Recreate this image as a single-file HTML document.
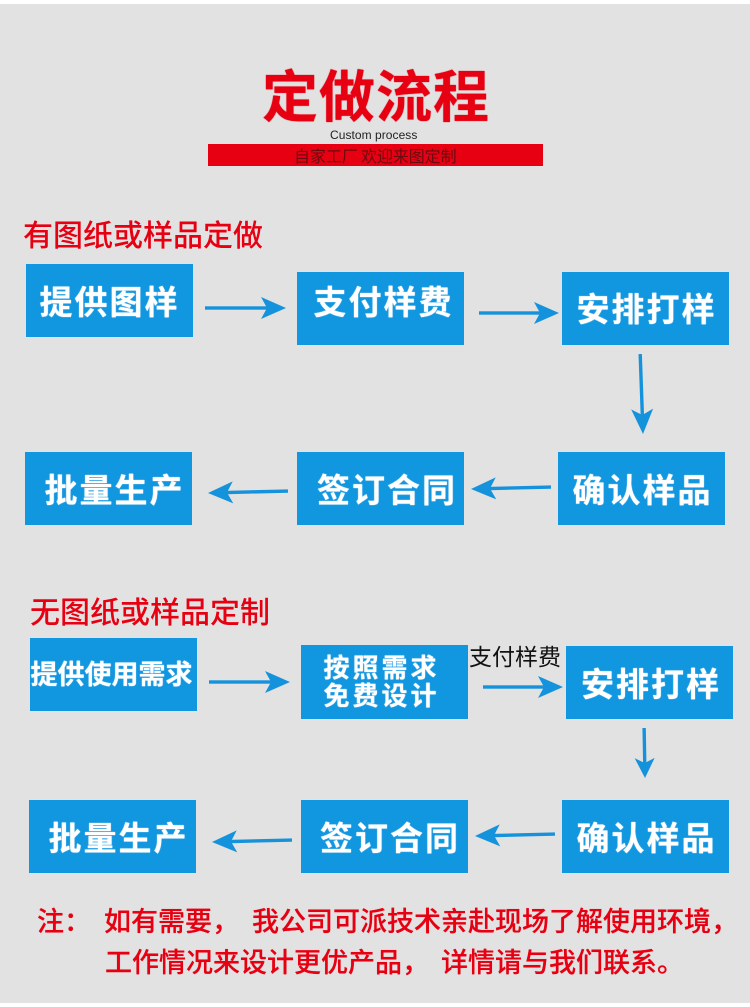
<!DOCTYPE html>
<html><head><meta charset="utf-8"><style>
html,body{margin:0;padding:0}
body{position:relative;width:750px;height:1007px;overflow:hidden;background:#fff;font-family:"Liberation Sans","Noto Sans CJK SC",sans-serif}
#bg{position:absolute;left:0;top:4px;width:750px;height:999px;background:#e2e2e2}
.b{position:absolute;width:167px;height:73px;background:#1196e0;color:#fff;font-weight:700;font-size:33px;line-height:73px;text-align:center;letter-spacing:2px;white-space:nowrap;font-family:"Noto Sans CJK SC",sans-serif;text-shadow:0 0 1px #fff}
.b span{position:relative}
.t{position:absolute;white-space:nowrap;font-family:"Noto Sans CJK SC",sans-serif;line-height:1}
.r{color:#e60012}
.n{font-size:27px;font-weight:500;white-space:pre;text-shadow:0 0 .5px #e60012}
svg{position:absolute;left:0;top:0}
</style></head><body>
<div id="bg"></div>
<div class="t r" style="left:262px;top:66px;font-size:56px;font-weight:700;letter-spacing:1px;text-shadow:0 0 1px #e60012">定做流程</div>
<div class="t" style="left:330px;top:129px;font-size:12px;color:#222;font-family:'Liberation Sans',sans-serif;letter-spacing:.05px">Custom process</div>
<div style="position:absolute;left:208px;top:144px;width:335px;height:22px;background:#e60012"></div>
<div class="t" style="left:294px;top:147px;font-size:16px;color:#6b0a10;letter-spacing:-.1px">自家工厂 欢迎来图定制</div>
<div class="t r" style="left:23px;top:218px;font-size:30px;font-weight:500">有图纸或样品定做</div>
<div class="b" style="left:26px;top:264px"><span>提供图样</span></div>
<div class="b" style="left:297px;top:272px"><span style="left:3px;top:-8px">支付样费</span></div>
<div class="b" style="left:562px;top:272px"><span style="left:1px;top:-1px">安排打样</span></div>
<div class="b" style="left:25px;top:452px"><span style="left:6px">批量生产</span></div>
<div class="b" style="left:297px;top:452px"><span style="left:6.5px">签订合同</span></div>
<div class="b" style="left:558px;top:452px"><span style="left:1px">确认样品</span></div>
<div class="t r" style="left:30px;top:595px;font-size:30px;font-weight:500">无图纸或样品定制</div>
<div class="b" style="left:30px;top:638px;font-size:27px;letter-spacing:0"><span style="left:-2px;top:-2px">提供使用需求</span></div>
<div class="b" style="left:301px;top:645px;font-size:26px;line-height:28px;letter-spacing:3px;padding-top:8px;height:66px"><span style="left:-3px">按照需求<br>免费设计</span></div>
<div class="t" style="left:469px;top:644px;font-size:23px;color:#111">支付样费</div>
<div class="b" style="left:566px;top:646px"><span style="left:1.5px">安排打样</span></div>
<div class="b" style="left:29px;top:800px"><span style="left:6px">批量生产</span></div>
<div class="b" style="left:301px;top:800px"><span style="left:5.5px">签订合同</span></div>
<div class="b" style="left:562px;top:800px"><span style="left:1px">确认样品</span></div>
<div class="t r n" style="left:37px;top:906px">注：</div>
<div class="t r n" style="left:104px;top:906px">如有需要，</div>
<div class="t r n" style="left:252px;top:906px">我公司可派技术亲赴现场了解使用环境，</div>
<div class="t r n" style="left:105px;top:947px">工作情况来设计更优产品，</div>
<div class="t r n" style="left:441px;top:947px">详情请与我们联系。</div>
<svg width="750" height="1007" viewBox="0 0 750 1007" fill="#1592dc" stroke="none">
<g transform="translate(286,308)"><rect x="-81" y="-1.7" width="70" height="3.4"/><path d="M0 0L-25-11L-19 0L-25 11Z"/></g>
<g transform="translate(559,313)"><rect x="-80" y="-1.7" width="70" height="3.4"/><path d="M0 0L-25-11L-19 0L-25 11Z"/></g>
<g transform="translate(643,434) rotate(88)"><rect x="-80" y="-1.7" width="70" height="3.4"/><path d="M0 0L-25-11L-19 0L-25 11Z"/></g>
<g transform="translate(208,493) rotate(178.6)"><rect x="-80" y="-1.7" width="70" height="3.4"/><path d="M0 0L-25-11L-19 0L-25 11Z"/></g>
<g transform="translate(471,489) rotate(178.6)"><rect x="-80" y="-1.7" width="70" height="3.4"/><path d="M0 0L-25-11L-19 0L-25 11Z"/></g>
<g transform="translate(290,682)"><rect x="-81" y="-1.7" width="70" height="3.4"/><path d="M0 0L-25-11L-19 0L-25 11Z"/></g>
<g transform="translate(563,687)"><rect x="-80" y="-1.7" width="70" height="3.4"/><path d="M0 0L-25-11L-19 0L-25 11Z"/></g>
<g transform="translate(645,778) rotate(89)"><rect x="-50" y="-1.7" width="40" height="3.4"/><path d="M0 0L-20-10L-15 0L-20 10Z"/></g>
<g transform="translate(212,842) rotate(178.6)"><rect x="-80" y="-1.7" width="70" height="3.4"/><path d="M0 0L-25-11L-19 0L-25 11Z"/></g>
<g transform="translate(475,836) rotate(178.6)"><rect x="-80" y="-1.7" width="70" height="3.4"/><path d="M0 0L-25-11L-19 0L-25 11Z"/></g>
</svg>
</body></html>
